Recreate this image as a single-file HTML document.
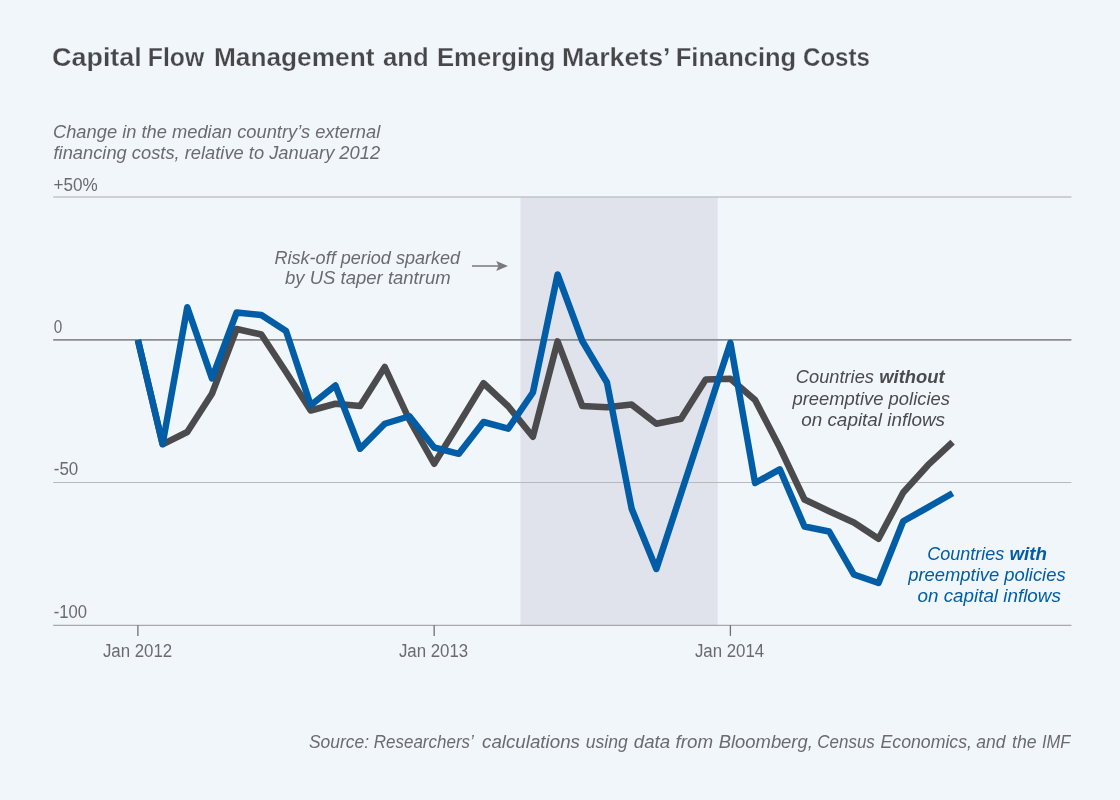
<!DOCTYPE html>
<html lang="en"><head><meta charset="utf-8"><title>Capital Flow Management and Emerging Markets’ Financing Costs</title>
<style>
html,body{margin:0;padding:0;background:#f1f6fb;}
svg{display:block}
text{font-family:"Liberation Sans",sans-serif;}
.t{font-weight:bold;fill:#47474a;font-size:26px;stroke:#f1f6fb;stroke-width:0.25px}
.i{font-style:italic;fill:#6b6b6e;font-size:17.5px}
.l{fill:#6b6b6e;font-size:18px}
.b{font-weight:bold}
.g{fill:#4b4b4d}
.u{fill:#005da6}
</style></head><body>
<svg width="1120" height="800" viewBox="0 0 1120 800">
<rect width="1120" height="800" fill="#f1f6fb"/>
<text class="t" y="65.7"><tspan x="52.07" textLength="89.68" lengthAdjust="spacingAndGlyphs">Capital</tspan> <tspan x="147.8" textLength="56.46" lengthAdjust="spacingAndGlyphs">Flow</tspan> <tspan x="213.99" textLength="160.43" lengthAdjust="spacingAndGlyphs">Management</tspan> <tspan x="383.0" textLength="45.72" lengthAdjust="spacingAndGlyphs">and</tspan> <tspan x="437.01" textLength="118.4" lengthAdjust="spacingAndGlyphs">Emerging</tspan> <tspan x="561.99" textLength="107.04" lengthAdjust="spacingAndGlyphs">Markets’</tspan> <tspan x="675.72" textLength="120.45" lengthAdjust="spacingAndGlyphs">Financing</tspan> <tspan x="803.08" textLength="66.75" lengthAdjust="spacingAndGlyphs">Costs</tspan></text>
<text class="i" y="138"><tspan x="52.95" textLength="327.33" lengthAdjust="spacingAndGlyphs">Change in the median country’s external</tspan></text>
<text class="i" y="158.9"><tspan x="53.5" textLength="326.58" lengthAdjust="spacingAndGlyphs">financing costs, relative to January 2012</tspan></text>
<rect x="520.4" y="197" width="197.3" height="428.3" fill="#e0e3ec"/>
<g stroke="#c0c3c9" stroke-width="1.6">
<line x1="53.2" x2="1071.4" y1="197.0" y2="197.0"/>
<line x1="53.2" x2="1071.4" y1="482.5" y2="482.5" stroke="#b6b9bf" stroke-width="1.15"/>
<line x1="53.2" x2="1071.4" y1="625.4" y2="625.4" stroke="#a6a9b0" stroke-width="1.2"/>
</g>
<g stroke="#8a8c90" stroke-width="1.7">
<line x1="53.2" x2="1071.4" y1="339.8" y2="339.8"/>
</g>
<g stroke="#6e7074" stroke-width="1.3">
<line x1="137.9" x2="137.9" y1="625.3" y2="635.9"/>
<line x1="434.15" x2="434.15" y1="625.3" y2="635.9"/>
<line x1="730.4" x2="730.4" y1="625.3" y2="635.9"/>
</g>
<text class="l" y="190.6"><tspan x="53.5" textLength="44.22" lengthAdjust="spacingAndGlyphs">+50%</tspan></text>
<text class="l" y="332.6"><tspan x="53.75" textLength="8.51" lengthAdjust="spacingAndGlyphs">0</tspan></text>
<text class="l" y="475.3"><tspan x="53.75" textLength="24.56" lengthAdjust="spacingAndGlyphs">-50</tspan></text>
<text class="l" y="617.9"><tspan x="53.75" textLength="33.28" lengthAdjust="spacingAndGlyphs">-100</tspan></text>
<text class="l" y="656.6"><tspan x="102.9" textLength="69.27" lengthAdjust="spacingAndGlyphs">Jan 2012</tspan></text>
<text class="l" y="656.6"><tspan x="398.9" textLength="69.27" lengthAdjust="spacingAndGlyphs">Jan 2013</tspan></text>
<text class="l" y="656.6"><tspan x="694.9" textLength="69.27" lengthAdjust="spacingAndGlyphs">Jan 2014</tspan></text>
<text class="i" y="263.75"><tspan x="274.5" textLength="185.67" lengthAdjust="spacingAndGlyphs">Risk-off period sparked</tspan></text>
<text class="i" y="283.75"><tspan x="285.0" textLength="165.64" lengthAdjust="spacingAndGlyphs">by US taper tantrum</tspan></text>
<g stroke="#7a7a7e" fill="#7a7a7e"><line x1="472" x2="500" y1="266" y2="266" stroke-width="1.5"/><path d="M508,266 L496.2,261 L498.5,266 L496.2,271 Z" stroke="none"/></g>
<polyline fill="none" stroke="#4b4b4d" stroke-width="6.5" stroke-linejoin="round" points="137.90,340.00 162.59,444.30 187.28,432.00 211.96,393.75 236.65,329.00 261.34,334.50 286.02,372.00 310.71,410.50 335.40,403.75 360.09,406.00 384.77,367.00 409.46,420.00 434.15,463.75 458.84,423.75 483.52,383.25 508.21,406.25 532.90,436.75 557.59,341.40 582.27,406.00 606.96,407.30 631.65,404.60 656.34,423.75 681.02,418.75 705.71,379.50 730.40,378.75 755.09,400.00 779.77,447.50 804.46,499.50 829.15,511.25 853.84,522.50 878.52,538.75 903.21,492.50 927.90,465.20 952.59,442.20"/>
<polyline fill="none" stroke="#005da6" stroke-width="6.5" stroke-linejoin="round" points="137.90,340.00 162.59,444.00 187.28,307.30 211.96,378.40 236.65,312.50 261.34,315.00 286.02,331.00 310.71,405.30 335.40,385.50 360.09,448.70 384.77,423.75 409.46,416.25 434.15,447.50 458.84,453.80 483.52,422.00 508.21,428.70 532.90,392.50 557.59,274.50 582.27,341.00 606.96,382.50 631.65,508.75 656.34,569.00 681.02,493.58 705.71,418.17 730.40,342.75 755.09,483.00 779.77,469.30 804.46,526.50 829.15,531.50 853.84,574.50 878.52,583.00 903.21,521.25 927.90,507.30 952.59,493.20"/>
<text class="i g" y="382.8"><tspan x="795.86" textLength="78.04" lengthAdjust="spacingAndGlyphs">Countries</tspan> <tspan class="b" x="879.3" textLength="65.36" lengthAdjust="spacingAndGlyphs">without</tspan></text>
<text class="i g" y="405"><tspan x="792.45" textLength="157.53" lengthAdjust="spacingAndGlyphs">preemptive policies</tspan></text>
<text class="i g" y="425.9"><tspan x="801.2" textLength="143.8" lengthAdjust="spacingAndGlyphs">on capital inflows</tspan></text>
<text class="i u" y="560"><tspan x="927.17" textLength="77.03" lengthAdjust="spacingAndGlyphs">Countries</tspan> <tspan class="b" x="1009.4" textLength="37.5" lengthAdjust="spacingAndGlyphs">with</tspan></text>
<text class="i u" y="581"><tspan x="908.25" textLength="157.34" lengthAdjust="spacingAndGlyphs">preemptive policies</tspan></text>
<text class="i u" y="602"><tspan x="917.5" textLength="143.3" lengthAdjust="spacingAndGlyphs">on capital inflows</tspan></text>
<text class="i" y="748"><tspan x="308.9" textLength="60.16" lengthAdjust="spacingAndGlyphs">Source:</tspan> <tspan x="373.75" textLength="99.14" lengthAdjust="spacingAndGlyphs">Researchers’</tspan> <tspan x="482.0" textLength="97.99" lengthAdjust="spacingAndGlyphs">calculations</tspan> <tspan x="585.75" textLength="42.09" lengthAdjust="spacingAndGlyphs">using</tspan> <tspan x="633.75" textLength="36.32" lengthAdjust="spacingAndGlyphs">data</tspan> <tspan x="675.5" textLength="37.5" lengthAdjust="spacingAndGlyphs">from</tspan> <tspan x="718.75" textLength="94.08" lengthAdjust="spacingAndGlyphs">Bloomberg,</tspan> <tspan x="817.28" textLength="57.55" lengthAdjust="spacingAndGlyphs">Census</tspan> <tspan x="880.5" textLength="91.47" lengthAdjust="spacingAndGlyphs">Economics,</tspan> <tspan x="976.25" textLength="29.2" lengthAdjust="spacingAndGlyphs">and</tspan> <tspan x="1012.0" textLength="24.58" lengthAdjust="spacingAndGlyphs">the</tspan> <tspan x="1042.0" textLength="28.39" lengthAdjust="spacingAndGlyphs">IMF</tspan></text>
</svg>
</body></html>
